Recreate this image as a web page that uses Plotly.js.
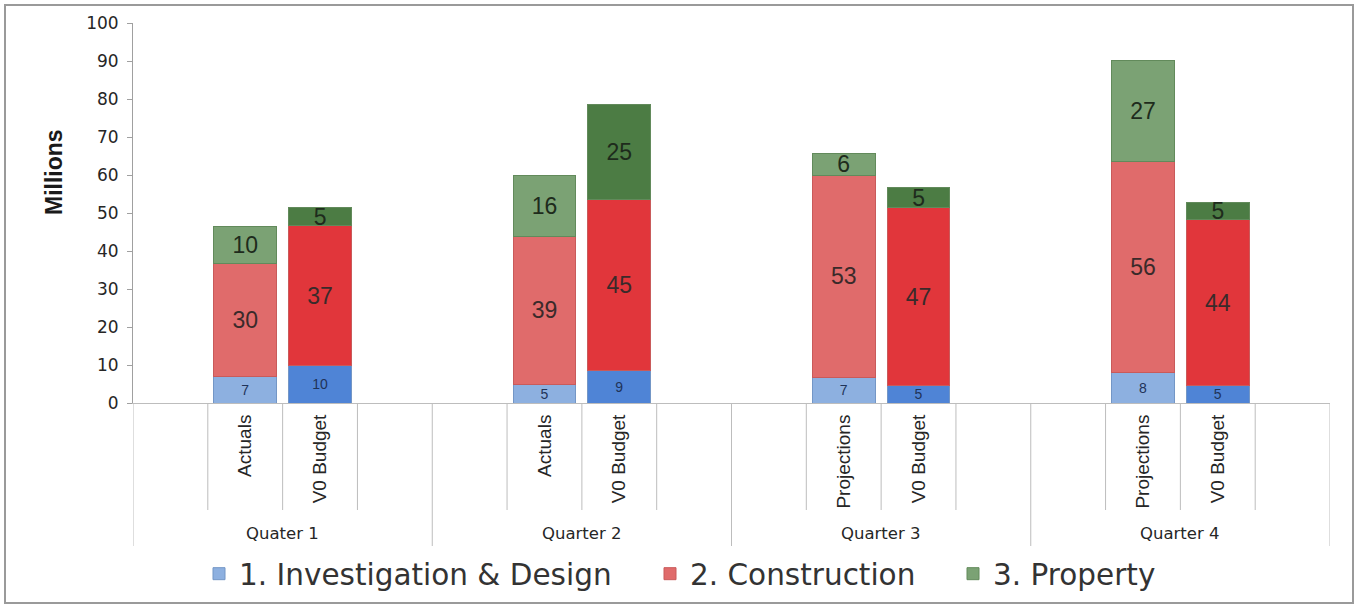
<!DOCTYPE html>
<html>
<head>
<meta charset="utf-8">
<script src="https://cdn.plot.ly/plotly-3.0.1.min.js"></script>
<style>
html,body{margin:0;padding:0;background:#fff;}
#chart{width:1360px;height:605px;}
</style>
</head>
<body>
<div id="chart"></div>
<script>
// ---- data ----
var quarters = ["Quater 1", "Quarter 2", "Quarter 3", "Quarter 4"];
var firstBarLabels = ["Actuals", "Actuals", "Projections", "Projections"];
var secondBarLabels = ["V0 Budget", "V0 Budget", "V0 Budget", "V0 Budget"];
var seriesNames = ["1. Investigation & Design", "2. Construction", "3. Property"];
var yAxisTitle = "Millions";

// values (millions) per quarter: first bar (Actuals/Projections) and second bar (V0 Budget)
var investigationFirst = [6.9, 4.9, 6.7, 7.9];
var investigationBudget = [9.8, 8.6, 4.6, 4.6];
var constructionFirst = [29.9, 38.9, 53.3, 55.6];
var constructionBudget = [36.8, 44.9, 46.8, 43.6];
var propertyFirst = [9.7, 16.0, 5.6, 26.7];
var propertyBudget = [4.8, 25.0, 5.2, 4.6];

// ---- styling ----
var lightColors = ["#8db0e0", "#e06b6b", "#7ba274"];
var darkColors  = ["#4f84d6", "#e1363b", "#4c7c44"];
var lineColors  = ["#7396c6", "#c95a5a", "#628a5b"];
var slotsPerQuarter = 4;
var baseFont = "Liberation Sans, Arial, sans-serif";
var wideFont = "DejaVu Sans, Liberation Sans, sans-serif";
var legendNames = ["legend", "legend2", "legend3"];
var legendTextStart = [240, 691, 994];

var tickvals = [], ticktext = [];
for (var q = 0; q < quarters.length; q++) {
  for (var s = 0; s < slotsPerQuarter; s++) {
    tickvals.push(q * slotsPerQuarter + s);
    ticktext.push(s === 1 ? firstBarLabels[q] : (s === 2 ? secondBarLabels[q] : ""));
  }
}

function buildTrace(idx, firstVals, budgetVals, fontSize, fontColor) {
  var x = [], y = [], colors = [];
  for (var q = 0; q < quarters.length; q++) {
    x.push(q * slotsPerQuarter + 1); y.push(firstVals[q]); colors.push(lightColors[idx]);
    x.push(q * slotsPerQuarter + 2); y.push(budgetVals[q]); colors.push(darkColors[idx]);
  }
  return {
    type: "bar",
    name: seriesNames[idx],
    legend: legendNames[idx],
    x: x, y: y,
    width: 0.84,
    marker: {color: colors, line: {color: lineColors[idx], width: 1}},
    texttemplate: "%{y:.0f}",
    textposition: "inside",
    insidetextanchor: "middle",
    constraintext: "none",
    textangle: 0,
    textfont: {family: baseFont, size: fontSize, color: fontColor},
    hoverinfo: "none"
  };
}

var traces = [
  buildTrace(0, investigationFirst, investigationBudget, 14, "#1f3358"),
  buildTrace(1, constructionFirst, constructionBudget, 23, "#3a2a2a"),
  buildTrace(2, propertyFirst, propertyBudget, 23, "#1e2b1c")
];

var W = 1360, H = 605;
var plotTop = 23, plotBottom = 403, plotLeft = 133, plotRight = 1330;
var plotH = plotBottom - plotTop, plotW = plotRight - plotLeft;
function py(pix) { return (plotBottom - pix) / plotH; }
function px(pix) { return (pix - plotLeft) / plotW; }

var shapes = [];
var annotations = [];
for (var q = 0; q <= quarters.length; q++) {
  shapes.push({type: "line", xref: "x", yref: "paper",
    x0: q * slotsPerQuarter - 0.5, x1: q * slotsPerQuarter - 0.5,
    y0: 0, y1: py(546), line: {color: "#bdbdbd", width: 1}});
}
for (var q = 0; q < quarters.length; q++) {
  for (var s = 1; s < slotsPerQuarter; s++) {
    shapes.push({type: "line", xref: "x", yref: "paper",
      x0: q * slotsPerQuarter + s - 0.5, x1: q * slotsPerQuarter + s - 0.5,
      y0: 0, y1: py(510), line: {color: "#bdbdbd", width: 1}});
  }
  annotations.push({xref: "x", yref: "paper",
    x: q * slotsPerQuarter + 1.5, y: py(533),
    text: quarters[q], showarrow: false, yanchor: "middle",
    font: {family: wideFont, size: 16.5, color: "#262626"}});
}
// y axis title as annotation (centred where the reference places it)
annotations.push({xref: "paper", yref: "paper", x: px(54), y: py(172),
  text: "<b>" + yAxisTitle + "</b>", textangle: -90, showarrow: false,
  xanchor: "center", yanchor: "middle",
  font: {family: baseFont, size: 23, color: "#1a1a1a"}});

// outer border
shapes.push({type: "rect", xref: "paper", yref: "paper",
  x0: px(5), x1: px(1353), y0: py(603), y1: py(5),
  line: {color: "#9a9a9a", width: 2}, fillcolor: "rgba(0,0,0,0)", layer: "below"});

function legendAt(i) {
  return {
    orientation: "h",
    x: px(legendTextStart[i] - 41), xanchor: "left", y: py(574), yanchor: "middle",
    font: {family: wideFont, size: 29.5, color: "#333333"},
    bgcolor: "rgba(0,0,0,0)", itemclick: false
  };
}

var layout = {
  width: W, height: H,
  margin: {l: plotLeft, r: W - plotRight, t: plotTop, b: H - plotBottom, pad: 0, autoexpand: false},
  paper_bgcolor: "#ffffff", plot_bgcolor: "#ffffff",
  barmode: "stack",
  showlegend: true,
  font: {family: baseFont, color: "#262626"},
  xaxis: {
    type: "linear",
    range: [-0.5, quarters.length * slotsPerQuarter - 0.5],
    tickvals: tickvals, ticktext: ticktext,
    tickangle: -90,
    tickfont: {family: baseFont, size: 19, color: "#262626"},
    ticks: "", showgrid: false, zeroline: false,
    showline: true, linecolor: "#bdbdbd", linewidth: 1,
    ticklabelstandoff: 3,
    fixedrange: true, automargin: false
  },
  yaxis: {
    range: [0, 100], dtick: 10, tick0: 0,
    ticks: "outside", ticklen: 5, tickcolor: "#a0a0a0",
    showline: true, linecolor: "#a0a0a0", linewidth: 1,
    showgrid: false, zeroline: false,
    tickfont: {family: wideFont, size: 17, color: "#262626"},
    ticklabelstandoff: 5,
    fixedrange: true, automargin: false
  },
  legend: legendAt(0),
  legend2: legendAt(1),
  legend3: legendAt(2),
  shapes: shapes,
  annotations: annotations
};

Plotly.newPlot("chart", traces, layout, {displayModeBar: false, staticPlot: true});
</script>
</body>
</html>
